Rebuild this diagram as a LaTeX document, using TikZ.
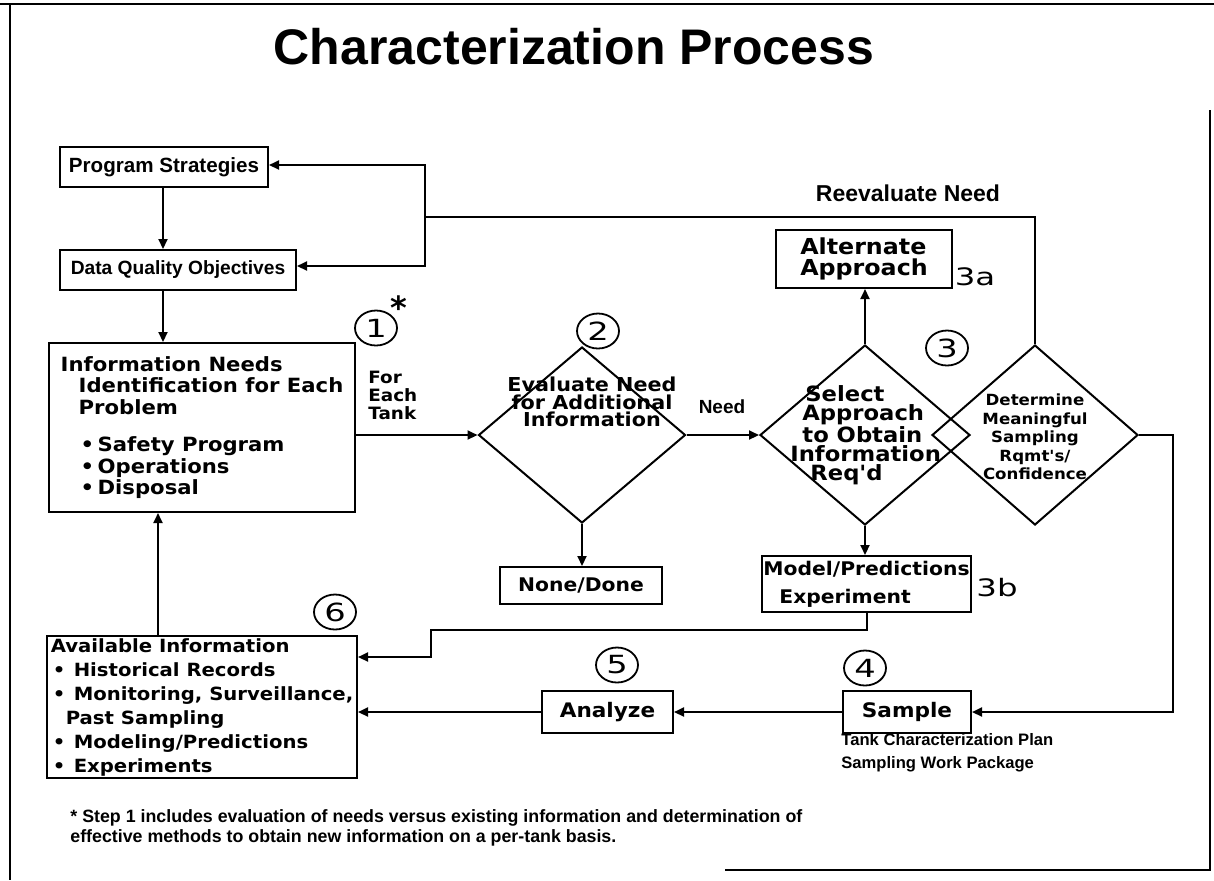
\documentclass[tikz,border=0pt]{standalone}
\usepackage{fontspec}
\usetikzlibrary{arrows.meta,shapes.geometric,calc}
\newfontfamily\wideb{DejaVu Sans}[FakeStretch=1.08]
\newfontfamily\numf{DejaVu Sans}[FakeStretch=1.35]
\newfontfamily\helv{Liberation Sans}
\newcommand\fsz[2]{\fontsize{#1}{#2}\selectfont}
\newcommand\bl[1]{\makebox[#1][l]{•}}
\tikzset{
  box/.style={draw, line width=1pt, inner sep=0pt},
  dia/.style={draw, diamond, line width=1pt, inner sep=0pt},
  arr/.style={line width=1pt, -{Triangle[length=5pt,width=4.5pt]}},
  ln/.style={line width=1pt},
  num/.style={draw, ellipse, fill=white, line width=0.9pt, inner sep=0pt,
    minimum width=21pt, minimum height=17.5pt, font=\numf\fsz{12.5}{12.5}},
  tag/.style={inner sep=0pt, font=\numf\fsz{12}{12}},
  plain/.style={inner sep=0pt, font=\helv\bfseries\fsz{#1}{#1}},
}
\begin{document}
\begin{tikzpicture}[x=0.5pt,y=-0.5pt]
\useasboundingbox (0,0) rectangle (1214,880);

% page frame
\draw[line width=1.3pt] (0,4) -- (1214,4);
\draw[line width=1.3pt] (10,4) -- (10,880);
\draw[line width=1.3pt] (1210,110) -- (1210,870) -- (725,870);

% title
\node[plain=25] (title) at (574,47) {Characterization Process};

% left column boxes
\node[box, minimum width=104pt, minimum height=20pt, font=\helv\bfseries\fsz{10.3}{12}] (ps) at (164,167) {Program Strategies};
\node[box, minimum width=118pt, minimum height=20pt, font=\helv\bfseries\fsz{9.6}{12}] (dqo) at (178,270) {Data Quality Objectives};
\node[box, minimum width=153pt, minimum height=84.5pt, align=left, font=\wideb\bfseries\fsz{9.8}{10.75}] (needs) at (202,427.5) {%
Information Needs\\
\hspace*{9pt}Identification for Each\\
\hspace*{9pt}Problem\\[8pt]
\hspace*{10pt}\bl{8.5pt}Safety Program\\
\hspace*{10pt}\bl{8.5pt}Operations\\
\hspace*{10pt}\bl{8.5pt}Disposal};
\node[box, minimum width=155pt, minimum height=71pt, align=left, font=\wideb\bfseries\fsz{9.1}{12}] (avail) at (202,707) {%
Available Information\\
\hspace*{1pt}\bl{10.5pt}Historical Records\\
\hspace*{1pt}\bl{10.5pt}Monitoring, Surveillance,\\
\hspace*{7.5pt}Past Sampling\\
\hspace*{1pt}\bl{10.5pt}Modeling/Predictions\\
\hspace*{1pt}\bl{10.5pt}Experiments};

% decision diamonds
\node[dia, minimum width=103.5pt, minimum height=88pt] (d2) at (582,435) {};
\node[inner sep=0pt, align=center, font=\wideb\bfseries\fsz{9.6}{8.6}] (d2t) at (592,402) {Evaluate Need\\for Additional\\Information};
\node[dia, minimum width=105pt, minimum height=90pt] (sel) at (865,435) {};
\node[inner sep=0pt, anchor=west, align=left, font=\wideb\bfseries\fsz{10.5}{9.5}] (selt) at (790,435) {%
\hspace*{7.5pt}Select\\
\hspace*{6pt}Approach\\
\hspace*{6pt}to Obtain\\
Information\\
\hspace*{10pt}Req'd};
\node[dia, minimum width=103pt, minimum height=90pt] (det) at (1035,435) {};
\node[inner sep=0pt, align=center, font=\wideb\bfseries\fsz{7.7}{9.2}] (dett) at (1035,437) {Determine\\Meaningful\\Sampling\\Rqmt's/\\Confidence};

% outcome boxes
\node[box, minimum width=88pt, minimum height=29pt, align=left, font=\wideb\bfseries\fsz{11}{10.5}] (alt) at (864,259) {Alternate\\Approach};
\node[tag] (t3a) at (975,277) {3a};
\node[box, minimum width=81pt, minimum height=18.5pt, font=\wideb\bfseries\fsz{9.4}{10}] (none) at (581,585.5) {None/Done};
\node[box, minimum width=104.5pt, minimum height=28pt, align=left, font=\wideb\bfseries\fsz{9.4}{14}] (model) at (866.5,584) {Model/Predictions\\\hspace*{8pt}Experiment};
\node[tag] (t3b) at (997,588) {3b};
\node[box, minimum width=65.5pt, minimum height=21pt, font=\wideb\bfseries\fsz{10}{10}] (analyze) at (607.5,712) {Analyze};
\node[box, minimum width=64pt, minimum height=21pt, font=\wideb\bfseries\fsz{10}{10}] (sample) at (907,712) {Sample};

% step numbers
\node[num] (c1) at (376,328) {1};
\node[inner sep=0pt, font=\fontspec{DejaVu Sans}\bfseries\fsz{16}{16}] (star) at (399,308) {*};
\node[num] (c2) at (598,331) {2};
\node[num] (c3) at (947,348) {3};
\node[num] (c4) at (865,668) {4};
\node[num] (c5) at (617,665) {5};
\node[num] (c6) at (335,612) {6};

% labels
\node[inner sep=0pt, anchor=west, align=left, font=\wideb\bfseries\fsz{8.5}{9}] (each) at (368,395) {For\\Each\\Tank};
\node[plain=9.5] (need) at (722,407) {Need};
\node[plain=11.5] (reev) at (908,193) {Reevaluate Need};
\node[inner sep=0pt, anchor=west, align=left, font=\helv\bfseries\fsz{8.3}{11.5}] (plan) at (841,753) {Tank Characterization Plan\\Sampling Work Package};
\node[inner sep=0pt, anchor=west, align=left, font=\helv\bfseries\fsz{8.9}{10}] (note) at (70,828) {%
* Step 1 includes evaluation of needs versus existing information and determination of\\
effective methods to obtain new information on a per-tank basis.};

% connectors
\coordinate (cx) at (163,0);
\coordinate (ux) at (158,0);
\coordinate (jn) at (425,217);
\coordinate (rx) at (1173,0);
\coordinate (mb) at (431,630);
\draw[arr] (ps.south -| cx) -- (dqo.north -| cx);
\draw[arr] (dqo.south -| cx) -- (needs.north -| cx);
\draw[arr] (avail.north -| ux) -- (needs.south -| ux);
\draw[ln] (det.north) |- (jn);
\draw[arr] (jn) |- ($(ps.east)+(0,-2)$);
\draw[arr] (jn) |- ($(dqo.east)+(0,-4)$);
\draw[arr] (needs.east |- d2.west) -- (d2.west);
\draw[arr] (d2.east) -- (sel.west);
\draw[arr] (d2.south) -- (d2.south |- none.north);
\draw[arr] (sel.north) -- (sel.north |- alt.south);
\draw[arr] (sel.south) -- (sel.south |- model.north);
\draw[arr] (det.east) -- (det.east -| rx) |- (sample.east);
\draw[arr] (sample.west) -- (sample.west -| analyze.east);
\draw[arr] (analyze.west) -- (analyze.west -| avail.east);
\draw[arr] (model.south) |- (mb) |- ($(avail.north east)+(0,22)$);
\end{tikzpicture}
\end{document}
